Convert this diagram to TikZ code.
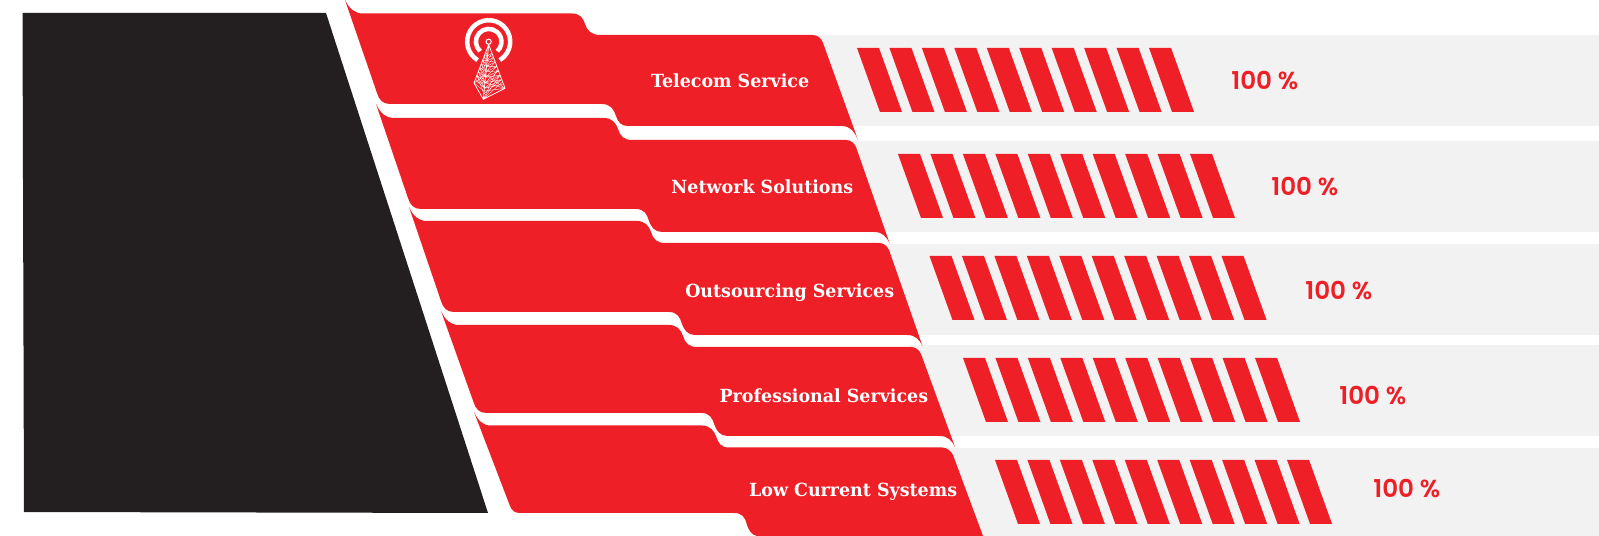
\documentclass[tikz,border=0pt]{standalone}
\usepackage{fontspec}
\usetikzlibrary{calc}
\newfontfamily\slabfont{DejaVu Serif}[FakeStretch=0.965]
\newfontfamily\pctfont{Poppins SemiBold}
\definecolor{panelred}{HTML}{EE1F26}
\definecolor{bandgray}{HTML}{F2F2F2}
\definecolor{blackbox}{HTML}{231F20}
\tikzset{
  panel/.style={fill=panelred,draw=none},
  band/.style={fill=bandgray,draw=none},
  stripe/.style={fill=panelred,draw=none},
  rowlabel/.style={text=white,font=\slabfont\bfseries\fontsize{10.3}{12}\selectfont,anchor=mid east,inner sep=0pt,yshift=-0.07cm,xshift=0.03cm},
  pct/.style={text=panelred,font=\pctfont\fontsize{14}{16}\selectfont,anchor=mid west,inner sep=0pt,yshift=-0.09cm},
  ring/.style={white,line width=0.09cm},
  mesh/.style={white,line width=0.22pt},
}
\newcommand{\stripes}[2]{%
  \foreach \k in {0,...,9}{
    \fill[stripe] ({#1+32.45*\k},{-#2}) -- ({#1+32.45*\k+22},{-#2}) -- ({#1+32.45*\k+45},{-#2-64}) -- ({#1+32.45*\k+23},{-#2-64}) -- cycle;
  }}
% middle panel: #1,#2 shift of upper edges, #3,#4 shift of lower edges, relative to panel 2
\newcommand{\midpanel}[4]{%
  \fill[panel] ({376+#1},{-104-#2}) .. controls ({380+#1},{-113-#2}) and ({386+#1},{-118-#2}) .. ({394+#1},{-118-#2})
    -- ({604+#1},{-118-#2}) .. controls ({612+#1},{-118-#2}) and ({616+#1},{-123-#2}) .. ({618+#1},{-129-#2})
    .. controls ({620+#1},{-136-#2}) and ({624+#1},{-140-#2}) .. ({632+#1},{-140-#2})
    -- ({846+#1},{-140-#2}) .. controls ({851+#1},{-140-#2}) and ({854+#1},{-143-#2}) .. ({856+#1},{-147-#2})
    -- ({889.5+#3},{-243-#4})
    .. controls ({886+#3},{-236-#4}) and ({882+#3},{-232-#4}) .. ({874+#3},{-232-#4})
    -- ({662+#3},{-232-#4}) .. controls ({655+#3},{-232-#4}) and ({651+#3},{-227-#4}) .. ({649+#3},{-221-#4})
    .. controls ({647+#3},{-214-#4}) and ({644+#3},{-209-#4}) .. ({636+#3},{-209-#4})
    -- ({421+#3},{-209-#4}) .. controls ({414+#3},{-209-#4}) and ({410+#3},{-205-#4}) .. ({408+#3},{-198-#4}) -- cycle;
}
\begin{document}
\begin{tikzpicture}[x=0.02cm,y=0.02cm]
\useasboundingbox (0,0) rectangle (1599,-536);
\fill[white] (0,0) rectangle (1599,-536);
% gray bands
\fill[band] (815,-35) rectangle (1599,-126);
\fill[band] (850,-141) rectangle (1599,-232);
\fill[band] (880,-244) rectangle (1599,-335);
\fill[band] (910,-345) rectangle (1599,-436);
\fill[band] (945,-448) rectangle (1599,-536);
% black block
\fill[blackbox] (22.5,-13) -- (326,-13) -- (488,-513) -- (24,-512) -- cycle;
% panel 1
\fill[panel] (345,0) .. controls (349,-8) and (354,-13.5) .. (363,-13.5)
  -- (572,-13.5) .. controls (580,-13.5) and (583,-18) .. (585,-24)
  .. controls (587,-31) and (592,-35) .. (600,-35)
  -- (812,-35) .. controls (818,-35) and (821,-38) .. (823,-43)
  -- (858,-140)
  .. controls (855,-132) and (850,-126) .. (842,-126)
  -- (628,-126) .. controls (621,-126) and (618,-122) .. (616,-116)
  .. controls (614,-109) and (610,-104) .. (602,-104)
  -- (390,-104) .. controls (383,-104) and (379,-100) .. (377,-93) -- cycle;
% panels 2-4
\midpanel{0}{0}{0}{0}
\midpanel{33}{103}{33}{103}
\midpanel{65}{207}{65.5}{204}
% panel 5
\fill[panel] (474,-412) .. controls (478,-420) and (482,-425.5) .. (491,-425.5)
  -- (702,-425.5) .. controls (710,-425.5) and (714,-431) .. (716,-436)
  .. controls (718,-443) and (721,-447.5) .. (729,-447.5)
  -- (942,-447.5) .. controls (947,-447.5) and (951,-451) .. (953,-455)
  -- (983,-536) -- (757,-536)
  .. controls (752,-535) and (749,-531) .. (747,-525)
  .. controls (745,-517) and (742,-513) .. (734,-513)
  -- (520,-513) .. controls (515,-513) and (512,-511) .. (510,-506) -- cycle;
% stripes
\stripes{857}{48}
\stripes{898}{154}
\stripes{929.5}{256}
\stripes{963}{358}
\stripes{995}{460}
% labels
\node[rowlabel] (l1) at (808,-80) {Telecom Service};
\node[rowlabel] (l2) at (852,-186) {Network Solutions};
\node[rowlabel] (l3) at (893,-290) {Outsourcing Services};
\node[rowlabel] (l4) at (927,-395) {Professional Services};
\node[rowlabel] (l5) at (956,-489) {Low Current Systems};
\node[pct] (p1) at (1231,-81) {100 \%};
\node[pct] (p2) at (1271,-187) {100 \%};
\node[pct] (p3) at (1305,-291) {100 \%};
\node[pct] (p4) at (1339,-396) {100 \%};
\node[pct] (p5) at (1373,-489) {100 \%};
% tower icon
\coordinate (C) at (488.7,-41.7);
\draw[ring] ($(C)+(-121:21.5)$) arc[start angle=-121,delta angle=-298,radius=21.5];
\draw[ring] ($(C)+(-132:12.8)$) arc[start angle=-132,delta angle=-276,radius=12.8];
\draw[white,line width=0.6pt,fill=panelred] (C) circle[radius=2.6];
\coordinate (A) at (488.7,-44.5);
\coordinate (L) at (474,-83);
\coordinate (F) at (483.3,-99.3);
\coordinate (R) at (505,-88.3);
\draw[white,line width=0.45pt,line join=round] (L) -- (A) -- (R) -- (F) -- cycle (A) -- (F);
\foreach \t/\u in {0.2/0.3,0.3/0.4,0.4/0.5,0.5/0.6,0.6/0.7,0.7/0.8,0.8/0.9}{
  \draw[mesh] ($(A)!\t!(L)$) -- ($(A)!\t!(F)$) -- ($(A)!\t!(R)$);
  \draw[mesh] ($(A)!\t!(L)$) -- ($(A)!\u!(F)$) -- ($(A)!\t!(R)$);
  \draw[mesh] ($(A)!\u!(L)$) -- ($(A)!\t!(F)$) -- ($(A)!\u!(R)$);
}
\foreach \t in {0.55,0.7,0.85}{
  \draw[mesh] (F) -- ($(A)!\t!(R)$);
  \draw[mesh] (R) -- ($(A)!\t!(F)$);
  \draw[mesh] (L) -- ($(A)!\t!(F)$);
}
\end{tikzpicture}
\end{document}
